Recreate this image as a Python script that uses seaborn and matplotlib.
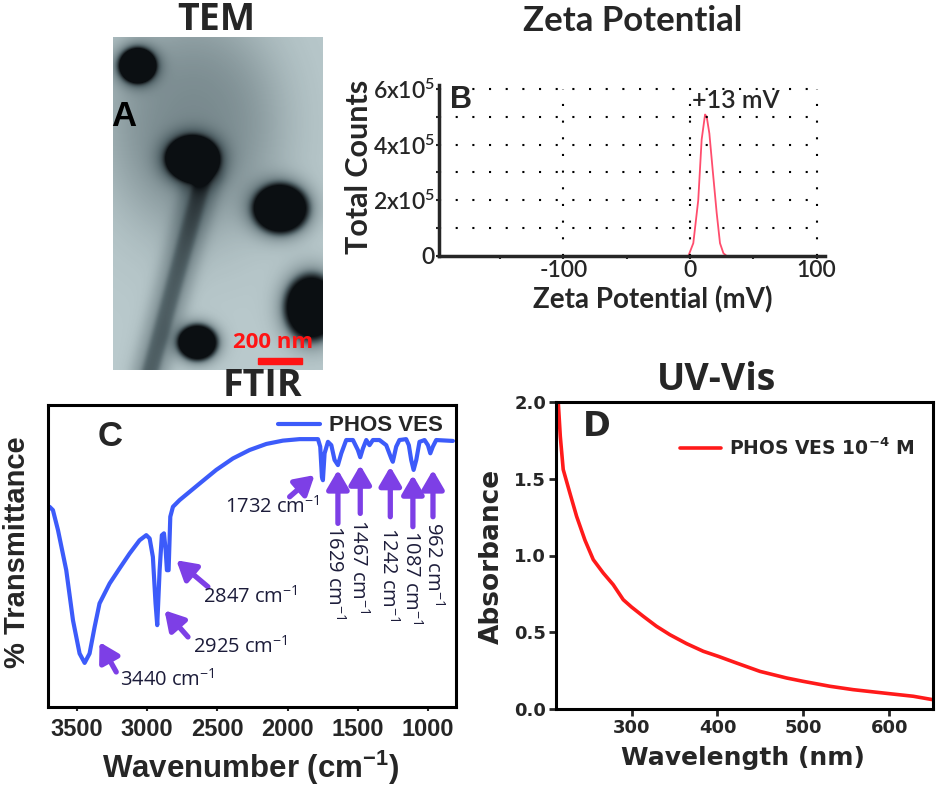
import numpy as np
import matplotlib
matplotlib.use("Agg")
import matplotlib.pyplot as plt
import seaborn as sns
from matplotlib.colors import LinearSegmentedColormap
from matplotlib.patches import Rectangle

# ---- data ----
# B: zeta potential distribution
zeta_mv = [-1.3, 2.6, 6.5, 9.2, 11.9, 13.2, 15.3, 17.9, 21.1, 23.7, 26.4, 29.0]
zeta_counts = [0, 0.46e5, 2.0e5, 4.18e5, 5.08e5, 5.0e5, 4.4e5, 3.1e5, 1.54e5, 0.46e5, 0.1e5, 0]
zeta_peak = "+13 mV"

# C: FTIR spectrum (% transmittance, arbitrary scale 0-100)
ftir_wn = [3695, 3671, 3635, 3576, 3528, 3481, 3445, 3410, 3374, 3339, 3267, 3196,
           3125, 3054, 3006, 2982, 2959, 2940, 2928, 2911, 2895, 2880, 2868, 2859,
           2847, 2835, 2816, 2769, 2626, 2508, 2389, 2270, 2151, 2033, 1914, 1783,
           1767, 1755, 1748, 1736, 1712, 1688, 1665, 1641, 1617, 1582, 1534, 1499,
           1482, 1463, 1439, 1416, 1392, 1345, 1297, 1261, 1250, 1226, 1203, 1155,
           1136, 1119, 1102, 1083, 1060, 1024, 1000, 983, 965, 941, 822]
ftir_t = [66.3, 65.2, 58.6, 45.3, 28.7, 17.7, 14.6, 17.7, 26.5, 34.3, 40.9, 45.9,
          50.8, 55.2, 56.9, 55.8, 49.7, 34.3, 27.1, 45.3, 56.9, 57.5, 51.9, 45.3,
          45.3, 63.0, 66.3, 68.5, 74.0, 78.5, 82.3, 85.1, 87.1, 88.2, 88.7, 88.7,
          86.2, 76.2, 75.1, 84.0, 87.8, 86.7, 81.8, 80.1, 84.0, 88.4, 88.4, 85.1,
          82.7, 85.6, 88.4, 86.7, 88.4, 88.4, 86.7, 82.3, 81.2, 86.2, 88.4, 88.7,
          86.7, 81.8, 78.5, 81.8, 87.8, 88.4, 86.7, 84.0, 86.2, 88.4, 88.1]
ftir_peaks = ["3440", "2925", "2847", "1732", "1629", "1467", "1242", "1087", "962"]

# D: UV-Vis absorbance
uv_nm = [214.6, 217, 220.4, 228, 236, 245.7, 255.4, 267, 278.6, 290.3, 300, 313.6,
         329, 344.6, 364, 383.5, 401, 422, 449.5, 480.5, 500, 531, 558, 600, 628, 650.5]
uv_abs = [2.0, 1.776, 1.56, 1.41, 1.255, 1.10, 0.973, 0.886, 0.81, 0.712, 0.664, 0.604,
          0.539, 0.484, 0.426, 0.376, 0.343, 0.30, 0.245, 0.202, 0.18, 0.148, 0.126,
          0.10, 0.083, 0.061]

# A: TEM particles (image px: cx, cy, rx, ry)
tem_particles = [(24, 28, 19, 18), (79, 121, 27, 23), (167, 171, 28, 25),
                 (198, 270, 27, 33), (84, 305, 20, 18)]

sns.set_style("ticks")
plt.rcParams["mathtext.default"] = "regular"
plt.rcParams["axes.unicode_minus"] = False

W, H = 939, 786
fig = plt.figure(figsize=(W / 100, H / 100), dpi=100)


def box(x0, y0, x1, y1):
    return [x0 / W, 1 - y1 / H, (x1 - x0) / W, (y1 - y0) / H]


def ftext(x, y, s, **kw):
    fig.text(x / W, 1 - y / H, s, **kw)


BOLD = dict(family="Liberation Sans", weight="bold")
DJB = dict(family="DejaVu Sans", weight="bold")
TITLE = dict(family="Open Sans", weight="bold", fontsize=27)

# ---------------- A: TEM ----------------
ax_tem = fig.add_axes(box(113, 37, 323, 370))
ih, iw = 333, 210
yy, xx = np.mgrid[0:ih, 0:iw].astype(float)
img = np.full((ih, iw), 1.0)
# diffuse darker membrane region upper left / centre
d = np.hypot((xx - 80) / 80, (yy - 85) / 100)
img -= 0.33 / (1 + np.exp((d - 1) * 4))
# stripe towards lower left
p0, p1 = np.array([90, 140]), np.array([37, 333])
v = p1 - p0
t = np.clip(((xx - p0[0]) * v[0] + (yy - p0[1]) * v[1]) / (v @ v), 0, 1)
dist = np.hypot(xx - (p0[0] + t * v[0]), yy - (p0[1] + t * v[1]))
img -= 0.25 / (1 + np.exp((dist - 18) * 0.25))
img -= 0.3 / (1 + np.exp((dist - 8) * 0.6))
for cx, cy, rx, ry in tem_particles:
    d = np.hypot((xx - cx) / rx, (yy - cy) / ry)
    img -= 0.3 / (1 + np.exp((d - 1.3) * 5))
    img -= 0.9 / (1 + np.exp((d - 1) * 12))
img = np.clip(img, 0, 1)
cmap = LinearSegmentedColormap.from_list("tem", ["#0b0f12", "#56676c", "#b9c9cc"])
ax_tem.imshow(img, cmap=cmap, vmin=0, vmax=1, aspect="auto", extent=(0, iw, ih, 0))
ax_tem.add_patch(Rectangle((145, 321), 44, 6, color="#ff1414"))
ax_tem.text(160, 306, "200 nm", color="#ff1414", ha="center", va="center",
            family="Open Sans", weight="bold", fontsize=16)
ax_tem.set_axis_off()
ftext(216, 20, "TEM", ha="center", va="center", **TITLE)
ftext(111, 116, "A", ha="left", va="center", fontsize=25, color="black", zorder=10, **BOLD)

# ---------------- B: Zeta ----------------
ax_z = fig.add_axes(box(439, 85, 825, 256))
sns.lineplot(x=zeta_mv, y=zeta_counts, color="#ff4d6d", lw=1.3, ax=ax_z)
ax_z.set_xlim(-198.4, 106.7)
ax_z.set_ylim(0, 6.14e5)
ax_z.vlines([-100, 0, 100], 0, 6e5, colors="black", linestyles=(0, (1, 7)), lw=1.5)
ax_z.hlines([1e5, 2e5, 3e5, 4e5, 5e5, 6e5], -198.4, 100, colors="black",
            linestyles=(0, (1, 7)), lw=1.5)
for s in ["top", "right"]:
    ax_z.spines[s].set_visible(False)
for s in ["left", "bottom"]:
    ax_z.spines[s].set_linewidth(2.5)
ax_z.set_xticks([-100, 0, 100])
ax_z.set_xticks([-150, -50, 50], minor=True)
ax_z.set_yticks([0, 2e5, 4e5, 6e5])
ax_z.set_yticklabels(["0", "2x10$^{5}$", "4x10$^{5}$", "6x10$^{5}$"])
ax_z.set_yticks([1e5, 3e5, 5e5], minor=True)
ax_z.tick_params(which="both", length=2, width=1.5, pad=1)
for lab in ax_z.get_xticklabels() + ax_z.get_yticklabels():
    lab.set_family("Lato")
    lab.set_weight("semibold")
    lab.set_fontsize(16.5)
ax_z.text(1.3, 5.6e5, zeta_peak, ha="left", va="center", family="Lato",
          weight="semibold", fontsize=18)
ftext(633, 21, "Zeta Potential", ha="center", va="center", family="Lato", weight="bold", fontsize=25)
ftext(450, 100, "B", ha="left", va="center", fontsize=22, **BOLD)
ftext(359, 167, "Total Counts", ha="center", va="center", rotation=90, family="Lato",
      weight="bold", fontsize=22)
ftext(653, 300, "Zeta Potential (mV)", ha="center", va="center", family="Lato",
      weight="bold", fontsize=20)

# ---------------- C: FTIR ----------------
ax_f = fig.add_axes(box(48, 405, 456, 707))
sns.lineplot(x=ftir_wn, y=ftir_t, color="#3c5bfa", lw=3, label="PHOS VES", ax=ax_f)
ax_f.set_xlim(3706, 800)
ax_f.set_ylim(0, 100)
ax_f.set_yticks([])
ax_f.set_xticks([3500, 3000, 2500, 2000, 1500, 1000])
ax_f.tick_params(axis="x", length=3, width=1.5, pad=5)
for lab in ax_f.get_xticklabels():
    lab.set_family("Liberation Sans")
    lab.set_weight("bold")
    lab.set_fontsize(17)
for s in ax_f.spines.values():
    s.set_linewidth(2.2)
    s.set_color("black")
leg = ax_f.legend(loc="upper right", frameon=False, handlelength=1.9, handletextpad=0.4,
                  borderaxespad=0.0, bbox_to_anchor=(0.99, 0.995),
                  prop=dict(family="Liberation Sans", weight="bold", size=16))

ARROW = "#7d3fe6"
LABC = "#1c1c3a"
# (text x, text y, ha, rotation, tail, head)
peak_layout = [
    (3191, 9.1, "left", 0, (3220, 11.6), (3339, 21.5)),
    (2674, 19.9, "left", 0, (2709, 23.2), (2876, 32.0)),
    (2603, 36.5, "left", 0, (2567, 39.8), (2792, 48.6)),
    (2448, 66.3, "left", 0, (1985, 69.6), (1807, 76.8)),
    (1665, 60.2, "center", 270, (1641, 60.8), (1641, 78.5)),
    (1499, 62.4, "center", 270, (1482, 64.1), (1482, 80.1)),
    (1285, 59.7, "center", 270, (1268, 63.0), (1268, 79.6)),
    (1119, 58.6, "center", 270, (1107, 59.7), (1107, 76.8)),
    (964, 61.3, "center", 270, (964, 63.0), (964, 78.5)),
]
for name, (tx, ty, ha, rot, tail, head) in zip(ftir_peaks, peak_layout):
    ax_f.annotate("", xy=head, xytext=tail,
                  arrowprops=dict(arrowstyle="-|>,head_length=0.6,head_width=0.35",
                                  color=ARROW, lw=3.8, mutation_scale=19,
                                  shrinkA=0, shrinkB=0))
    ax_f.text(tx, ty, name + " cm$^{-1}$", ha=ha, va="top" if rot else "center",
              rotation=rot, color=LABC, family="Open Sans", fontsize=14.5)
ftext(262, 386, "FTIR", ha="center", va="center", **TITLE)
ftext(98, 437, "C", ha="left", va="center", fontsize=25, **BOLD)
ftext(17, 552, "% Transmittance", ha="center", va="center", rotation=90, fontsize=21, **BOLD)
ftext(251, 768, "Wavenumber (cm$^{-1}$)", ha="center", va="center", fontsize=22.5, **BOLD)

# ---------------- D: UV-Vis ----------------
ax_u = fig.add_axes(box(556, 402, 933, 709))
sns.lineplot(x=uv_nm, y=uv_abs, color="#ff1a1a", lw=2.6, label="PHOS VES 10$^{-4}$ M", ax=ax_u)
ax_u.set_xlim(212, 651)
ax_u.set_ylim(0, 2.0)
ax_u.set_xticks([300, 400, 500, 600])
ax_u.set_yticks([0, 0.5, 1.0, 1.5, 2.0])
ax_u.set_yticklabels(["0.0", "0.5", "1.0", "1.5", "2.0"])
ax_u.tick_params(length=5, width=2, pad=2)
for lab in ax_u.get_xticklabels() + ax_u.get_yticklabels():
    lab.set_family("DejaVu Sans")
    lab.set_weight("bold")
    lab.set_fontsize(13)
for s in ax_u.spines.values():
    s.set_linewidth(2.2)
    s.set_color("black")
ax_u.legend(loc="upper right", frameon=False, handlelength=2.2, handletextpad=0.4,
            borderaxespad=0.0, bbox_to_anchor=(0.97, 0.91),
            prop=dict(family="DejaVu Sans", weight="bold", size=13.5))
ftext(716, 380, "UV-Vis", ha="center", va="center", **TITLE)
ftext(583, 427, "D", ha="left", va="center", fontsize=24, **DJB)
ftext(492, 556, "Absorbance", ha="center", va="center", rotation=90, fontsize=19, **DJB)
ftext(743, 758, "Wavelength (nm)", ha="center", va="center", fontsize=18, **DJB)

fig.savefig("out.png", dpi=100)
